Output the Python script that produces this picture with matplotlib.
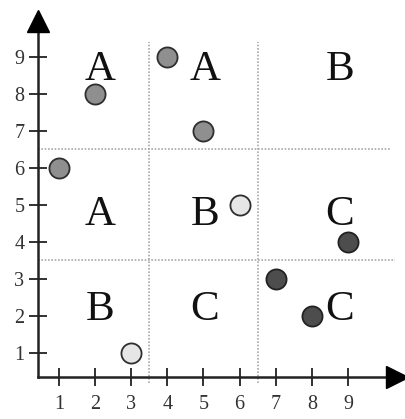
import matplotlib.pyplot as plt

# points, grouped by fill shade
mid_x = [1, 2, 4, 5]
mid_y = [6, 8, 9, 7]
light_x = [3, 6]
light_y = [1, 5]
dark_x = [7, 8, 9]
dark_y = [3, 2, 4]

# region labels (cell centres) and grid splits
region_labels = ["A", "A", "B", "A", "B", "C", "B", "C", "C"]
label_x = [2.14, 5.04, 8.78, 2.14, 5.04, 8.78, 2.14, 5.04, 8.78]
label_y = [8.65, 8.65, 8.65, 4.73, 4.73, 4.73, 2.16, 2.16, 2.16]
splits = [3.5, 6.5]
ticks = [1, 2, 3, 4, 5, 6, 7, 8, 9]

plt.rcParams["font.family"] = ["Liberation Serif", "DejaVu Serif"]

fig = plt.figure(figsize=(4.06, 4.19), dpi=100)
ax = fig.add_axes([0, 0, 1, 1])
ax.set_xlim(-0.633, 10.606)
ax.set_ylim(-0.784, 10.54)

x0, y0 = 0.419, 0.351
dot = dict(ls=(0, (1, 1)), color="#a8a8a8", lw=1.2, zorder=1)

# dotted grid splits
for s in splits:
    ax.plot([s, s], [0.19, 9.41], **dot)
ax.plot([x0, 10.16], [6.5, 6.5], **dot)
ax.plot([x0, 10.3], [3.5, 3.5], **dot)

ms = 14.5
ax.plot(mid_x, mid_y, "o", ms=ms, mfc="#8f8f8f", mec="#2e2e2e", mew=1.3, zorder=3)
ax.plot(light_x, light_y, "o", ms=ms, mfc="#e6e6e6", mec="#2e2e2e", mew=1.3, zorder=3)
ax.plot(dark_x, dark_y, "o", ms=ms, mfc="#4d4d4d", mec="#222222", mew=1.3, zorder=3)

for lab, lx, ly in zip(region_labels, label_x, label_y):
    ax.text(lx, ly, lab, fontsize=31, ha="center", va="center", color="#111111")

# axes with arrows
for name in ["top", "right"]:
    ax.spines[name].set_visible(False)
ax.spines["left"].set_position(("data", x0))
ax.spines["bottom"].set_position(("data", y0))
ax.spines["left"].set_bounds(y0, 9.8)
ax.spines["bottom"].set_bounds(x0, 10.2)
for name in ["left", "bottom"]:
    ax.spines[name].set_linewidth(1.8)
    ax.spines[name].set_color("#222222")

ax.plot(x0, 9.96, "^", ms=16.5, color="black", clip_on=False, zorder=4)
ax.plot(10.36, y0, ">", ms=16.5, color="black", clip_on=False, zorder=4)

ax.set_xticks(ticks)
ax.set_yticks(ticks)
ax.tick_params(direction="inout", length=13.5, width=1.3, color="#222222",
               labelsize=14.5, labelcolor="#333333")
ax.tick_params(axis="x", pad=6)
ax.tick_params(axis="y", pad=3)
ax.patch.set_visible(False)

fig.savefig("out.png", dpi=100)
